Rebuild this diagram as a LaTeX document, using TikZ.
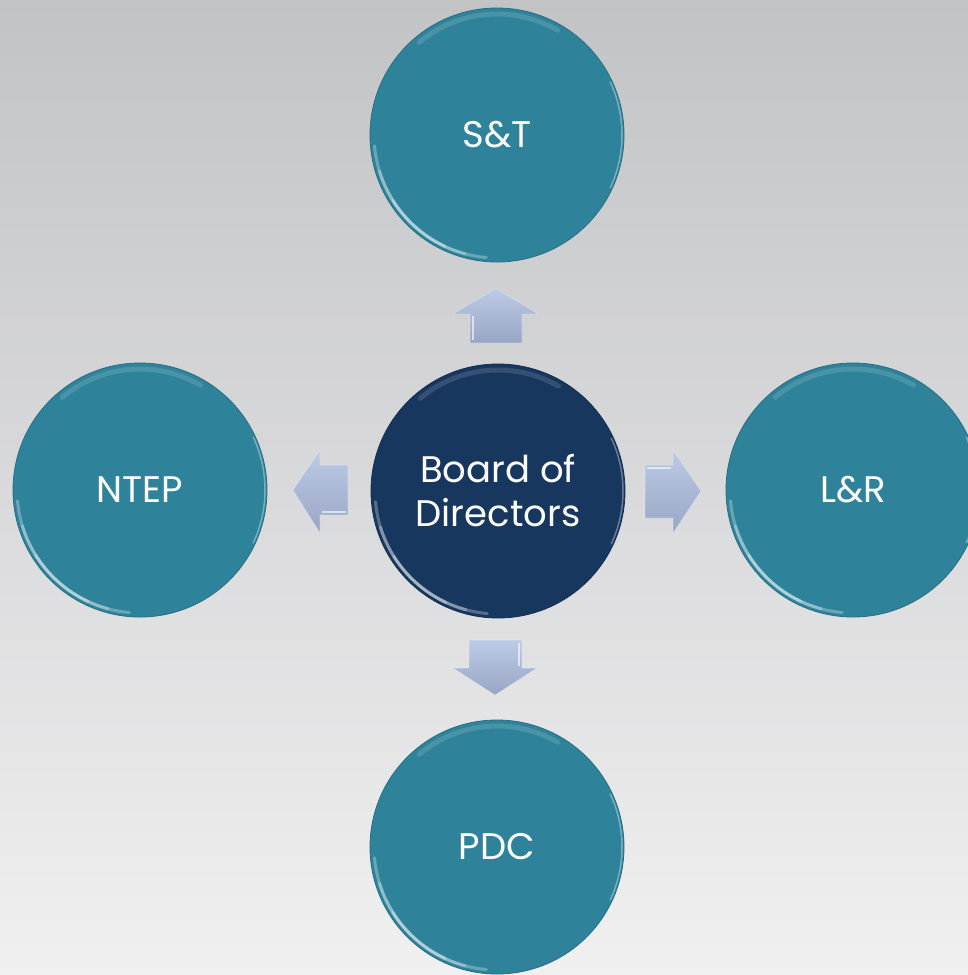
\documentclass[tikz,border=0pt]{standalone}
\usepackage{fontspec}
\setmainfont{Poppins}
\definecolor{tealc}{RGB}{46,131,155}
\definecolor{navyc}{RGB}{23,55,94}
\definecolor{bgtop}{RGB}{194,195,197}
\definecolor{bgbot}{RGB}{240,240,241}
\definecolor{arrtop}{RGB}{190,203,230}
\definecolor{arrbot}{RGB}{152,165,196}
\begin{document}
\begin{tikzpicture}[x=1pt,y=-1pt,
  circ/.style={circle, minimum size=254pt, inner sep=0pt, text=white,
    font=\fontsize{37}{44}\selectfont, align=center},
  tealnode/.style={circ, fill=tealc, draw=tealc!85!black, line width=0.8pt},
  navynode/.style={circ, fill=navyc, draw=navyc!85!black, line width=0.8pt},
  rimhi/.style={white, opacity=0.28, line width=3pt, line cap=round},
  rimlo/.style={white, opacity=0.13, line width=5pt, line cap=round},
  rimedge/.style={white, opacity=0.35, line width=1.5pt, line cap=round},
  blockarrow/.style={top color=arrtop, bottom color=arrbot, draw=white, draw opacity=0.35, line width=0.6pt, line join=round}]
\useasboundingbox (0,0) rectangle (968,975);
\clip (0,0) rectangle (968,975);
\shade[top color=bgtop, bottom color=bgbot] (0,0) rectangle (968,975);

\node[navynode] (bod) at (498,491) {Board of\\Directors};
\node[tealnode] (st) at (497,135) {S\&T};
\node[tealnode] (ntep) at (140,490) {NTEP};
\node[tealnode] (lr) at (853,490) {L\&R};
\node[tealnode] (pdc) at (497,847) {PDC};

\foreach \n in {bod,st,ntep,lr,pdc}{
  \draw[rimhi] (\n.center) ++(-185:123) arc[start angle=-185, end angle=-265, radius=123];
  \draw[rimhi] (\n.center) ++(-197:123) arc[start angle=-197, end angle=-255, radius=123];
  \draw[rimhi] (\n.center) ++(-212:123) arc[start angle=-212, end angle=-245, radius=123];
  \draw[rimlo] (\n.center) ++(-60:121) arc[start angle=-60, end angle=-130, radius=121];
  \draw[rimedge] (\n.center) ++(25:125) arc[start angle=25, end angle=-25, radius=125];
}

% block arrows
\shade[blockarrow] (496,288) -- (538,314) -- (522,314) -- (522,343) -- (470,343) -- (470,314) -- (453,314) -- cycle;
\shade[blockarrow] (293,490) -- (320,450) -- (320,465) -- (348,465) -- (348,515) -- (320,515) -- (320,533) -- cycle;
\shade[blockarrow] (701,491) -- (673,450) -- (673,465) -- (645,465) -- (645,518) -- (673,518) -- (673,533) -- cycle;
\shade[blockarrow] (495,695) -- (537,668) -- (522,668) -- (522,640) -- (469,640) -- (469,668) -- (453,668) -- cycle;
\draw[white, opacity=0.6, line width=1.5pt] (473,316) -- (473,340);
\draw[white, opacity=0.6, line width=1.5pt] (322,512) -- (346,512);
\draw[white, opacity=0.6, line width=1.5pt] (647,468) -- (671,468);
\draw[white, opacity=0.6, line width=1.5pt] (519,643) -- (519,666);
\end{tikzpicture}
\end{document}
